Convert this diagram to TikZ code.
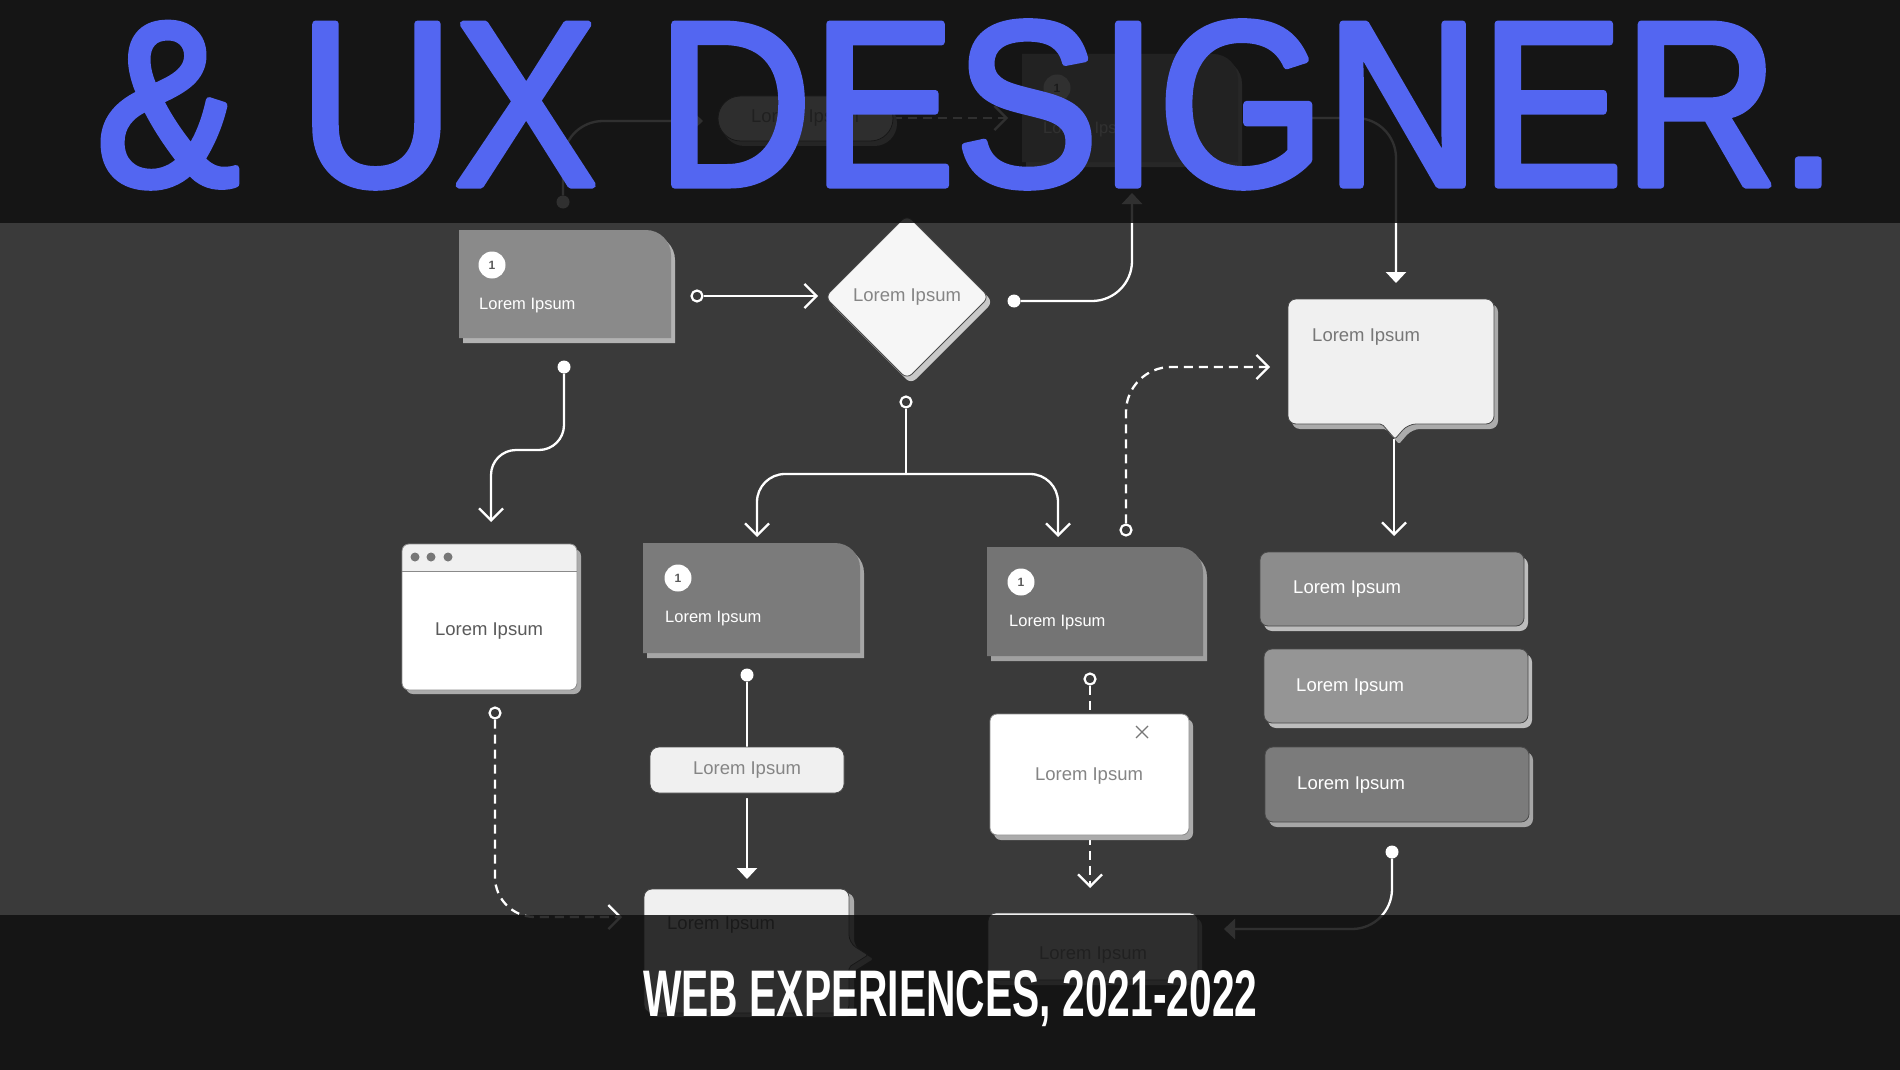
\documentclass[tikz,border=0pt]{standalone}
\usepackage{graphicx}
\usepackage{fontspec}
\setmainfont{Liberation Sans}
\newfontfamily\medfont[FakeBold=3]{Liberation Sans}
\usetikzlibrary{arrows.meta}
\definecolor{bgc}{HTML}{3A3A3A}
\definecolor{bandc}{HTML}{101010}
\definecolor{titleblue}{HTML}{5366F1}
\definecolor{lightc}{HTML}{F0F0F0}
\definecolor{txtgray}{HTML}{858585}
\definecolor{txtdark}{HTML}{5A5A5A}
\definecolor{edgec}{HTML}{4A4A4A}
\definecolor{cardA}{HTML}{8A8A8A}
\definecolor{cardAs}{HTML}{B2B2B2}
\definecolor{cardC}{HTML}{7B7B7B}
\definecolor{cardCs}{HTML}{A6A6A6}
\definecolor{cardG}{HTML}{747474}
\definecolor{cardGs}{HTML}{A0A0A0}
\definecolor{cardE}{HTML}{999999}
\definecolor{cardEs}{HTML}{B8B8B8}
\definecolor{boxJ}{HTML}{8C8C8C}
\definecolor{boxK}{HTML}{959595}
\definecolor{boxL}{HTML}{7B7B7B}
\definecolor{boxs}{HTML}{BDBDBD}
\definecolor{lights}{HTML}{ABABAB}
\definecolor{dias}{HTML}{C8C8C8}
\definecolor{dotgray}{HTML}{777777}

\newcommand\rbox[8]{%
  \fill[#6, rounded corners=#7pt] ({#1+4},{#2+5}) rectangle ({#3+4},{#4+5});
  \filldraw[fill=#5, draw=#8, line width=0.8pt, rounded corners=#7pt] (#1,#2) rectangle (#3,#4);}

\newcommand\cardTR[6]{%
  \fill[#6] ({#1+4},{#4+5}) -- ({#1+4},{#2+5}) -- ({#3+4-25},{#2+5}) .. controls ({#3+4-11.2},{#2+5}) and ({#3+4},{#2+5+11.2}) .. ({#3+4},{#2+5+25}) -- ({#3+4},{#4+5}) -- cycle;
  \fill[#5] (#1,#4) -- (#1,#2) -- ({#3-25},#2) .. controls ({#3-11.2},#2) and (#3,{#2+11.2}) .. (#3,{#2+25}) -- (#3,#4) -- cycle;}

\tikzset{
  conn/.style={draw=white, line width=2.3pt},
  dconn/.style={conn, dash pattern=on 9pt off 6pt},
  barbtip/.style={-{Straight Barb[length=12pt,width=24pt]}},
  tritip/.style={-{Triangle[length=11pt,width=20pt]}},
  ring/.style={circle, draw=white, line width=2.2pt, fill=bgc, minimum size=11pt, inner sep=0pt},
  dotp/.style={circle, fill=white, minimum size=13pt, inner sep=0pt},
  lbl/.style={inner sep=0pt, font=\fontsize{18.5}{20}\selectfont},
  lblsm/.style={inner sep=0pt, font=\fontsize{16.5}{18}\selectfont, text=white},
  numc/.style={circle, fill=white, minimum size=27pt, inner sep=0pt, font=\fontsize{12}{12}\selectfont\bfseries, text=txtdark},
}

\begin{document}
\begin{tikzpicture}[x=1pt,y=-1pt,line join=round]
\useasboundingbox (0,0) rectangle (1900,1070);
\fill[bgc] (0,0) rectangle (1900,1070);

% ---------------- connectors ----------------
\node[ring] (rA) at (697,296) {};
\coordinate (tA) at (818,296);
\draw[conn,barbtip] (rA) -- (tA);

\node[dotp] (dA) at (564,367) {};
\coordinate (tB) at (491,522);
\draw[conn,barbtip,rounded corners=25pt] (dA) -- (564,450) -- (491,450) -- (tB);

\node[ring] (rD) at (906,402) {};
\coordinate (jD) at (906,474);
\draw[conn] (rD) -- (906,475.1);
\coordinate (tC) at (757,537);
\coordinate (tG) at (1058,537);
\draw[conn,barbtip,rounded corners=28pt] (jD) -- (757,474) -- (tC);
\draw[conn,barbtip,rounded corners=28pt] (jD) -- (1058,474) -- (tG);

\node[dotp] (dDia) at (1014,301) {};
\coordinate (tE) at (1132,193);
\draw[conn,tritip,rounded corners=40pt] (dDia) -- (1132,301) -- (tE);

\node[dotp] (dC) at (747,675) {};
\coordinate (tD) at (747,879);
\draw[conn,tritip] (dC) -- (tD);

\node[ring] (rG) at (1090,679) {};
\coordinate (tI) at (1090,888);
\draw[dconn,barbtip] (rG) -- (tI);

\node[ring] (rG2) at (1126,530) {};
\coordinate (tF) at (1270,367);
\draw[dconn,barbtip,rounded corners=45pt] (rG2) -- (1126,367) -- (tF);

\coordinate (Fp) at (1394,439);
\coordinate (tJ) at (1394,536);
\draw[conn,barbtip] (Fp) -- (tJ);

\node[ring] (rB) at (495,713) {};
\coordinate (tDl) at (622,917);
\draw[dconn,barbtip,rounded corners=40pt] (rB) -- (495,917) -- (tDl);

\node[dotp] (dL) at (1392,852) {};
\coordinate (tIr) at (1224,929);
\draw[conn,tritip,rounded corners=40pt] (dL) -- (1392,929) -- (tIr);

\node[dotp] (dT) at (563,202) {};
\coordinate (tP) at (703,121);
\draw[conn,tritip,rounded corners=40pt] (dT) -- (563,121) -- (tP);

\coordinate (Pr) at (893,118);
\coordinate (tEc) at (1008,118);
\draw[dconn,barbtip] (Pr) -- (tEc);

\node[dotp] (dE) at (1250,118) {};
\coordinate (tF2) at (1396,283);
\draw[conn,tritip,rounded corners=40pt] (dE) -- (1396,118) -- (tF2);

% ---------------- shapes ----------------
% card A
\cardTR{459}{230}{671}{338}{cardA}{cardAs}
\node[numc] (nA) at (492,265) {1};
\node[lblsm, anchor=west] (A) at (479,306) {Lorem Ipsum};

% diamond
\fill[dias, rounded corners=7pt] (911,220) -- (993,302) -- (911,384) -- (829,302) -- cycle;
\filldraw[fill=lightc!60!white, draw=edgec, line width=0.8pt, rounded corners=7pt] (907,215) -- (989,297) -- (907,379) -- (825,297) -- cycle;
\node[lbl, text=txtgray] (Dia) at (907,297) {Lorem Ipsum};

% browser B
\fill[lights, rounded corners=7pt] (406,549) rectangle (581,694);
\fill[white, rounded corners=7pt] (402,544) rectangle (577,690);
\begin{scope}
  \clip[rounded corners=7pt] (402,544) rectangle (577,690);
  \fill[lightc] (402,544) rectangle (577,571);
\end{scope}
\draw[cardA, line width=0.8pt] (402,571) -- (577,571);
\draw[cardA, line width=0.8pt, rounded corners=7pt] (402,544) rectangle (577,690);
\fill[dotgray] (415,557) circle (4.5pt) (431,557) circle (4.5pt) (448,557) circle (4.5pt);
\node[lbl, text=txtdark] (B) at (489,631) {Lorem Ipsum};

% card C
\cardTR{643}{543}{860}{653}{cardC}{cardCs}
\node[numc] (nC) at (678,578) {1};
\node[lblsm, anchor=west] (C) at (665,619) {Lorem Ipsum};

% pill Q
\rbox{650}{747}{844}{793}{lightc}{bgc}{9}{edgec}
\node[lbl, text=txtgray] (Q) at (747,770) {Lorem Ipsum};

% card G
\cardTR{987}{547}{1203}{656}{cardG}{cardGs}
\node[numc] (nG) at (1021,582) {1};
\node[lblsm, anchor=west] (G) at (1009,623) {Lorem Ipsum};

% modal H
\rbox{990}{714}{1189}{835}{white}{lights}{7}{cardA}
\draw[dotgray, line width=1.2pt] (1136,726) -- (1148,738) (1136,738) -- (1148,726);
\node[lbl, text=txtgray] (H) at (1089,776) {Lorem Ipsum};

% bubble F
\fill[lights, rounded corners=8pt, shift={(4,5)}] (1288,299) -- (1494,299) -- (1494,424) -- (1408,424) [rounded corners=2pt] -- (1395,439) -- (1382,424) [rounded corners=8pt] -- (1288,424) -- cycle;
\filldraw[fill=lightc, draw=edgec, line width=0.8pt, rounded corners=8pt] (1288,299) -- (1494,299) -- (1494,424) -- (1408,424) [rounded corners=2pt] -- (1395,439) -- (1382,424) [rounded corners=8pt] -- (1288,424) -- cycle;
\node[lbl, text=dotgray, anchor=west] (F) at (1312,337) {Lorem Ipsum};

% right column
\rbox{1260}{552}{1524}{626}{boxJ}{boxs}{8}{edgec}
\node[lbl, text=white, anchor=west] (J) at (1293,589) {Lorem Ipsum};
\rbox{1264}{649}{1528}{723}{boxK}{boxs}{8}{edgec}
\node[lbl, text=white, anchor=west] (K) at (1296,687) {Lorem Ipsum};
\rbox{1265}{747}{1529}{822}{boxL}{cardCs}{8}{edgec}
\node[lbl, text=white, anchor=west] (L) at (1297,785) {Lorem Ipsum};

% bottom bubble D
\fill[lights, rounded corners=8pt, shift={(5,4)}] (644,889) -- (849,889) -- (849,943) [rounded corners=2pt] -- (868,955) -- (849,967) [rounded corners=8pt] -- (849,1013) -- (644,1013) -- cycle;
\filldraw[fill=lightc, draw=edgec, line width=0.8pt, rounded corners=8pt] (644,889) -- (849,889) -- (849,943) [rounded corners=2pt] -- (868,955) -- (849,967) [rounded corners=8pt] -- (849,1013) -- (644,1013) -- cycle;
\node[lbl, text=txtdark, anchor=west] (D) at (667,925) {Lorem Ipsum};

% bottom box I
\rbox{988}{913}{1198}{980}{lightc}{lights}{8}{edgec}
\node[lbl, text=txtgray] (I) at (1093,955) {Lorem Ipsum};

% top pill P
\rbox{718}{96}{893}{141}{lightc}{lights}{22.5}{edgec}
\node[lbl, text=txtgray] (P) at (805,118) {Lorem Ipsum};

% top card E
\cardTR{1022}{54}{1238}{162}{cardE}{cardEs}
\node[numc] (nE) at (1057,88) {1};
\node[lblsm, anchor=west] (E) at (1043,130) {Lorem Ipsum};

% ---------------- dark bands ----------------
\fill[bandc, opacity=0.863] (0,0) rectangle (1900,223);
\fill[bandc, opacity=0.863] (0,915) rectangle (1900,1070);

% ---------------- titles ----------------
\node[anchor=base west, inner sep=0pt, text=titleblue] (T1) at (96,185) {\resizebox{1742pt}{163pt}{\medfont\& UX DESIGNER.}};
\node[anchor=base west, inner sep=0pt, text=white] (T2) at (643,1016) {\resizebox{614pt}{46pt}{\bfseries WEB EXPERIENCES, 2021-2022}};
\end{tikzpicture}
\end{document}
